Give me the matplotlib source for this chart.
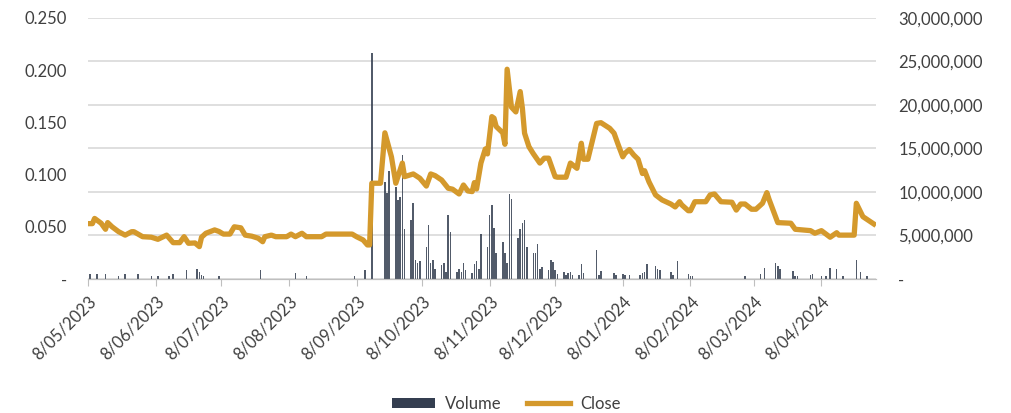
import matplotlib.pyplot as plt
import matplotlib.dates as mdates
from matplotlib.ticker import FuncFormatter, MultipleLocator
from matplotlib.lines import Line2D
from matplotlib.patches import Patch
import pandas as pd

plt.rcParams['font.family'] = ['Lato', 'DejaVu Sans']

# close price at the turning points
close_dates = [
    '2023-05-08', '2023-05-10', '2023-05-11', '2023-05-14', '2023-05-16', '2023-05-17',
    '2023-05-19', '2023-05-22', '2023-05-25', '2023-05-28', '2023-05-29', '2023-06-02',
    '2023-06-06', '2023-06-09', '2023-06-13', '2023-06-16', '2023-06-19', '2023-06-21',
    '2023-06-23', '2023-06-26', '2023-06-28', '2023-06-29', '2023-07-01', '2023-07-05',
    '2023-07-07', '2023-07-09', '2023-07-12', '2023-07-14', '2023-07-17', '2023-07-19',
    '2023-07-22', '2023-07-25', '2023-07-27', '2023-07-28', '2023-07-31', '2023-08-02',
    '2023-08-07', '2023-08-09', '2023-08-11', '2023-08-14', '2023-08-16', '2023-08-23',
    '2023-08-25', '2023-09-06', '2023-09-08', '2023-09-11', '2023-09-13', '2023-09-14',
    '2023-09-15', '2023-09-19', '2023-09-21', '2023-09-24', '2023-09-26', '2023-09-29',
    '2023-09-30', '2023-10-04', '2023-10-07', '2023-10-10', '2023-10-12', '2023-10-14',
    '2023-10-17', '2023-10-20', '2023-10-22', '2023-10-25', '2023-10-27', '2023-10-29',
    '2023-10-31', '2023-11-01', '2023-11-02', '2023-11-04', '2023-11-06', '2023-11-07',
    '2023-11-09', '2023-11-10', '2023-11-11', '2023-11-14', '2023-11-15', '2023-11-16',
    '2023-11-18', '2023-11-20', '2023-11-22', '2023-11-23', '2023-11-24', '2023-11-26',
    '2023-11-28', '2023-12-01', '2023-12-03', '2023-12-05', '2023-12-08', '2023-12-09',
    '2023-12-13', '2023-12-15', '2023-12-18', '2023-12-20', '2023-12-21', '2023-12-23',
    '2023-12-27', '2023-12-29', '2024-01-02', '2024-01-04', '2024-01-06', '2024-01-08',
    '2024-01-09', '2024-01-11', '2024-01-13', '2024-01-15', '2024-01-17', '2024-01-18',
    '2024-01-20', '2024-01-23', '2024-01-26', '2024-01-30', '2024-02-01', '2024-02-03',
    '2024-02-04', '2024-02-07', '2024-02-08', '2024-02-10', '2024-02-15', '2024-02-17',
    '2024-02-19', '2024-02-22', '2024-02-27', '2024-02-29', '2024-03-02', '2024-03-04',
    '2024-03-07', '2024-03-09', '2024-03-12', '2024-03-14', '2024-03-15', '2024-03-19',
    '2024-03-25', '2024-03-27', '2024-04-03', '2024-04-05', '2024-04-08', '2024-04-12',
    '2024-04-15', '2024-04-16', '2024-04-23', '2024-04-24', '2024-04-27', '2024-05-02',
]
close_values = [
    0.053, 0.053, 0.058, 0.0534, 0.0476, 0.054,
    0.050, 0.0453, 0.042, 0.0453, 0.0453, 0.0405,
    0.040, 0.038, 0.042, 0.0348, 0.0348, 0.0405,
    0.0342, 0.0345, 0.031, 0.040, 0.0438, 0.047,
    0.0455, 0.043, 0.043, 0.050, 0.049, 0.042,
    0.041, 0.039, 0.0357, 0.0405, 0.042, 0.0405,
    0.0405, 0.043, 0.0405, 0.0438, 0.0405, 0.0405,
    0.043, 0.043, 0.0405, 0.0374, 0.0326, 0.0326,
    0.0917, 0.0917, 0.140, 0.117, 0.0917, 0.111,
    0.098, 0.1006, 0.0965, 0.089, 0.1006, 0.099,
    0.0948, 0.0869, 0.086, 0.0814, 0.090, 0.0843,
    0.0837, 0.0923, 0.0862, 0.111, 0.1245, 0.1198,
    0.1555, 0.154, 0.146, 0.140, 0.129, 0.2009,
    0.1645, 0.160, 0.1795, 0.1635, 0.1396, 0.1267,
    0.120, 0.111, 0.1157, 0.1157, 0.098, 0.0975,
    0.0975, 0.111, 0.106, 0.130, 0.1147, 0.1147,
    0.149, 0.1497, 0.1443, 0.1396, 0.128, 0.117,
    0.1204, 0.124, 0.1188, 0.1147, 0.101, 0.1037,
    0.093, 0.0805, 0.0757, 0.0718, 0.069, 0.074,
    0.071, 0.0654, 0.0654, 0.074, 0.074, 0.0805,
    0.0814, 0.074, 0.0735, 0.066, 0.0718, 0.0718,
    0.0668, 0.0668, 0.0725, 0.0827, 0.0763, 0.054,
    0.0534, 0.0476, 0.0463, 0.0438, 0.0463, 0.040,
    0.0443, 0.042, 0.042, 0.0725, 0.0597, 0.0527,
]

# daily volume (millions of shares)
volume_dates = [
    '2023-05-09', '2023-05-12', '2023-05-16', '2023-05-22', '2023-05-25', '2023-05-31',
    '2023-06-06', '2023-06-09', '2023-06-14', '2023-06-16', '2023-06-22', '2023-06-27',
    '2023-06-28', '2023-06-29', '2023-06-30', '2023-07-07', '2023-07-26', '2023-08-11',
    '2023-08-16', '2023-09-07', '2023-09-12', '2023-09-15',
    '2023-09-21', '2023-09-22', '2023-09-23',
    '2023-09-26', '2023-09-27', '2023-09-28', '2023-09-29', '2023-09-30',
    '2023-10-03', '2023-10-04', '2023-10-05', '2023-10-06', '2023-10-07',
    '2023-10-10', '2023-10-11', '2023-10-12', '2023-10-13', '2023-10-14',
    '2023-10-17', '2023-10-18', '2023-10-19', '2023-10-20', '2023-10-21',
    '2023-10-24', '2023-10-25', '2023-10-26', '2023-10-27', '2023-10-28',
    '2023-10-31', '2023-11-01', '2023-11-02', '2023-11-03', '2023-11-04',
    '2023-11-07', '2023-11-08', '2023-11-09', '2023-11-10', '2023-11-11',
    '2023-11-14', '2023-11-15', '2023-11-16', '2023-11-17', '2023-11-18',
    '2023-11-21', '2023-11-22', '2023-11-23', '2023-11-24', '2023-11-25',
    '2023-11-28', '2023-11-29', '2023-11-30', '2023-12-01', '2023-12-02',
    '2023-12-05', '2023-12-06', '2023-12-07', '2023-12-08', '2023-12-09',
    '2023-12-12', '2023-12-13', '2023-12-14', '2023-12-15', '2023-12-16',
    '2023-12-19', '2023-12-20', '2023-12-21', '2023-12-27', '2023-12-28', '2023-12-29',
    '2024-01-04', '2024-01-05', '2024-01-08', '2024-01-09', '2024-01-11',
    '2024-01-16', '2024-01-17', '2024-01-18', '2024-01-19',
    '2024-01-23', '2024-01-24', '2024-01-25', '2024-01-30', '2024-01-31', '2024-02-02',
    '2024-02-07', '2024-02-08', '2024-02-09', '2024-03-04', '2024-03-11', '2024-03-13',
    '2024-03-18', '2024-03-19', '2024-03-20', '2024-03-26', '2024-03-27', '2024-03-28',
    '2024-04-03', '2024-04-04', '2024-04-08', '2024-04-10', '2024-04-12', '2024-04-15',
    '2024-04-18', '2024-04-24', '2024-04-26', '2024-04-29',
]
volume_millions = [
    0.6, 0.6, 0.6, 0.3, 0.6, 0.6,
    0.3, 0.3, 0.3, 0.6, 1.0, 1.1,
    0.8, 0.5, 0.3, 0.3, 1.0, 0.7,
    0.3, 0.3, 1.0, 26.0,
    11.2, 9.9, 12.4,
    10.6, 9.1, 9.4, 14.3, 5.7,
    6.8, 8.7, 2.2, 1.8, 2.1,
    3.7, 6.2, 1.8, 2.2, 1.2,
    1.6, 1.8, 0.8, 7.4, 5.4,
    0.8, 1.1, 0.8, 1.8, 1.0,
    0.65, 1.7, 2.1, 1.2, 5.2,
    3.7, 7.4, 8.5, 5.9, 3.0,
    4.3, 3.0, 1.8, 9.8, 9.2,
    4.7, 5.8, 6.4, 6.8, 3.7,
    3.0, 3.0, 4.0, 1.1, 1.4,
    1.0, 2.2, 1.9, 1.0, 0.6,
    0.8, 0.5, 0.7, 0.8, 0.5,
    0.5, 1.7, 0.7, 3.3, 0.5, 0.9,
    0.7, 0.5, 0.6, 0.5, 0.5,
    0.5, 0.7, 0.8, 1.7,
    1.5, 1.2, 1.0, 0.75, 0.5, 2.1,
    0.6, 0.3, 0.3, 0.3, 0.6, 1.3,
    1.8, 1.5, 1.2, 0.9, 0.3, 0.3,
    0.5, 0.6, 0.3, 0.3, 1.3, 1.1,
    0.3, 2.2, 0.8, 0.3,
]

close_x = pd.to_datetime(close_dates)
vol_x = pd.to_datetime(volume_dates)
vol = [v * 1e6 for v in volume_millions]

gold = '#D4992C'
navy = '#343E50'
txt = '#404040'

fig = plt.figure(figsize=(10.12, 4.13), dpi=100)
ax = fig.add_axes([0.087, 0.3245, 0.7786, 0.632])
ax2 = ax.twinx()

ax2.bar(vol_x, vol, width=0.7, color=navy, alpha=0.85, linewidth=0)
ax.plot(close_x, close_values, color=gold, linewidth=3.8, solid_joinstyle='round')

ax.set_zorder(ax2.get_zorder() + 1)
ax.patch.set_visible(False)

ax.set_ylim(0, 0.25)
ax2.set_ylim(0, 30e6)
ax.set_xlim(pd.Timestamp('2023-05-08'), pd.Timestamp('2024-05-03'))

ax.yaxis.set_major_locator(MultipleLocator(0.05))
ax2.yaxis.set_major_locator(MultipleLocator(5e6))
ax.yaxis.set_major_formatter(FuncFormatter(lambda v, p: '-' if abs(v) < 1e-9 else f'{v:.3f}'))
ax2.yaxis.set_major_formatter(FuncFormatter(lambda v, p: '-' if abs(v) < 1 else f'{v:,.0f}'))

ax2.grid(axis='y', color='#D9D9D9', linewidth=1.2)
ax2.set_axisbelow(True)

ax.xaxis.set_major_locator(mdates.MonthLocator(bymonthday=8))
ax.xaxis.set_major_formatter(FuncFormatter(
    lambda v, p: f'{mdates.num2date(v).day}/{mdates.num2date(v).month:02d}/{mdates.num2date(v).year}'))
ax.tick_params(axis='x', length=5, color='#BFBFBF', labelsize=12, labelcolor=txt, pad=5)
plt.setp(ax.get_xticklabels(), rotation=45, ha='right', rotation_mode='anchor')
ax.tick_params(axis='y', length=0, labelsize=12, labelcolor=txt, pad=15)
ax2.tick_params(axis='y', length=0, labelsize=12, labelcolor=txt, pad=16)

for a in (ax, ax2):
    for s in ('top', 'left', 'right'):
        a.spines[s].set_visible(False)
    a.spines['bottom'].set_color('#BFBFBF')
ax2.tick_params(axis='x', length=0, labelbottom=False)

handles = [Patch(facecolor=navy, label='Volume'),
           Line2D([0], [0], color=gold, linewidth=3.8, label='Close')]
fig.legend(handles=handles, loc='center', bbox_to_anchor=(0.5, 0.022), ncol=2,
           frameon=False, fontsize=12, labelcolor=txt, handlelength=2.6,
           handletextpad=0.6, columnspacing=1.5, handleheight=0.6)

fig.savefig('out.png', dpi=100)
